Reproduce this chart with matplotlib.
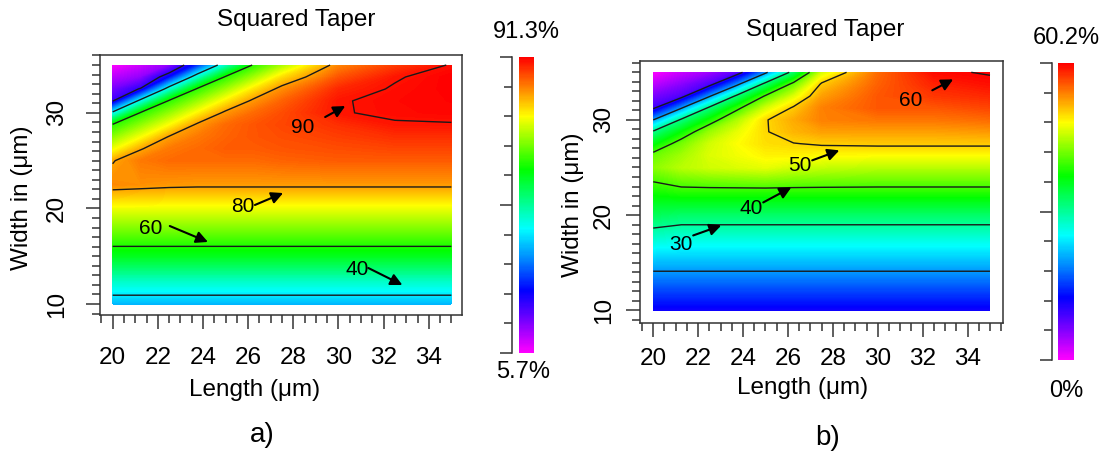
import numpy as np
import matplotlib
matplotlib.use("Agg")
import matplotlib.pyplot as plt
from matplotlib.colors import LinearSegmentedColormap, Normalize
from matplotlib.cm import ScalarMappable
from matplotlib.ticker import MultipleLocator, FixedLocator

plt.rcParams['font.family'] = ['Liberation Sans', 'DejaVu Sans']

# === Data ===
length_um = [20, 21.25, 22.5, 23.75, 25, 26.25, 27.5, 30, 32.5, 35]
width_um = [10, 12.5, 15, 17.5, 20, 22.5, 25, 26.25, 27.5, 28.75, 30, 31.25, 32.5, 33.75, 35]

# a) efficiency (%) : one row per width, one column per length
eff_a = [
    [36.5, 36.5, 36.5, 36.5, 36.5, 36.5, 36.5, 36.5, 36.5, 36.5],
    [46.0, 46.0, 46.0, 46.0, 46.0, 46.0, 46.0, 46.0, 46.0, 46.0],
    [56.5, 56.5, 56.5, 56.5, 56.5, 56.5, 56.5, 56.5, 56.5, 56.5],
    [65.0, 65.0, 65.0, 65.0, 65.0, 65.0, 65.0, 65.0, 65.0, 65.0],
    [73.0, 73.0, 73.0, 73.0, 73.0, 73.0, 73.0, 73.0, 73.0, 73.0],
    [82.0, 81.5, 81.0, 80.8, 80.8, 80.8, 80.8, 80.8, 80.8, 80.8],
    [79.7, 83.0, 84.0, 84.0, 84.0, 84.0, 84.5, 85.0, 85.0, 85.0],
    [72.9, 79.7, 83.0, 84.0, 85.0, 85.0, 85.5, 86.0, 86.5, 86.5],
    [66.8, 73.4, 80.3, 83.0, 84.5, 85.5, 86.0, 87.0, 88.0, 88.0],
    [60.7, 67.1, 73.8, 80.8, 84.0, 85.5, 86.5, 88.0, 89.7, 89.8],
    [41.7, 60.8, 67.3, 74.4, 81.0, 84.0, 86.0, 89.8, 90.5, 90.8],
    [19.5, 42.8, 60.8, 67.6, 74.9, 81.0, 84.5, 89.8, 90.6, 91.0],
    [14.9, 20.5, 43.8, 60.8, 67.9, 75.5, 81.5, 88.5, 90.3, 91.2],
    [10.3, 13.0, 23.6, 44.7, 60.8, 68.2, 76.0, 85.5, 89.7, 91.3],
    [5.7, 9.0, 13.0, 26.1, 45.3, 60.9, 68.5, 82.0, 87.0, 90.3],
]

# b) efficiency (%)
eff_b = [
    [12.0, 12.0, 12.0, 12.0, 12.0, 12.0, 12.0, 12.0, 12.0, 12.0],
    [16.8, 16.8, 16.8, 16.8, 16.8, 16.8, 16.8, 16.8, 16.8, 16.8],
    [21.8, 21.8, 21.8, 21.8, 21.8, 21.8, 21.8, 21.8, 21.8, 21.8],
    [27.5, 26.8, 26.8, 26.8, 26.8, 26.8, 26.8, 26.8, 26.8, 26.8],
    [33.0, 32.2, 32.2, 32.2, 32.2, 32.2, 32.2, 32.2, 32.2, 32.2],
    [38.0, 38.9, 38.9, 38.9, 38.9, 38.9, 38.9, 38.9, 38.9, 38.9],
    [43.0, 45.0, 46.0, 46.5, 47.0, 46.0, 45.5, 45.0, 45.0, 45.0],
    [41.5, 44.0, 46.5, 47.5, 48.5, 48.5, 48.2, 48.0, 48.0, 48.0],
    [36.1, 42.0, 46.0, 48.0, 49.5, 49.9, 50.3, 50.5, 50.5, 50.5],
    [30.7, 36.9, 43.5, 47.0, 49.8, 51.5, 52.5, 52.5, 52.5, 52.8],
    [20.0, 30.8, 37.8, 44.5, 49.8, 52.0, 54.0, 54.5, 54.5, 55.0],
    [9.4, 19.7, 31.0, 39.1, 46.0, 50.5, 54.0, 56.0, 56.0, 56.8],
    [6.3, 8.5, 19.5, 31.3, 40.5, 46.5, 52.5, 56.0, 57.5, 58.2],
    [3.1, 5.5, 8.5, 19.1, 31.7, 41.4, 50.5, 55.5, 58.5, 59.4],
    [0.0, 2.5, 4.5, 8.0, 19.0, 32.0, 46.0, 55.0, 59.6, 60.2],
]

range_a = (5.7, 91.3)
range_b = (0.0, 60.2)
levels_a = [20, 40, 60, 80, 90]
levels_b = [10, 20, 30, 40, 50, 60]
x_ticks = [20, 22, 24, 26, 28, 30, 32, 34]
y_ticks = [10, 20, 30]

# rainbow : magenta -> blue -> cyan -> green -> yellow -> red
cmap = LinearSegmentedColormap.from_list("rainbow_mag", [
    (0.00, (1.0, 0.0, 1.0)),
    (0.10, (0.5, 0.0, 1.0)),
    (0.21, (0.0, 0.0, 1.0)),
    (0.31, (0.0, 0.5, 1.0)),
    (0.42, (0.0, 1.0, 1.0)),
    (0.52, (0.0, 1.0, 0.5)),
    (0.62, (0.0, 1.0, 0.0)),
    (0.71, (0.5, 1.0, 0.0)),
    (0.80, (1.0, 1.0, 0.0)),
    (0.90, (1.0, 0.5, 0.0)),
    (1.00, (1.0, 0.0, 0.0)),
])

W, H = 1104, 455
fig = plt.figure(figsize=(W / 100, H / 100), dpi=100)
FS = 17.5
EDGE = '#333333'


def px_box(x0, y0, x1, y1):
    return [x0 / W, 1 - y1 / H, (x1 - x0) / W, (y1 - y0) / H]


def ftext(x, y, s, **kw):
    fig.text(x / W, 1 - y / H, s, ha='center', va='center', **kw)


def panel(box, xlim, ylim, z, vrange, levels, labels, pad):
    ax = fig.add_axes(px_box(*box))
    z = np.array(z)
    fill = np.linspace(vrange[0], vrange[1], 256)
    ax.contourf(length_um, width_um, z, levels=fill, cmap=cmap,
                vmin=vrange[0], vmax=vrange[1])
    ax.contour(length_um, width_um, z, levels=levels, colors='#1a1a1a',
               linewidths=1.0)
    ax.set_xlim(*xlim)
    ax.set_ylim(*ylim)
    ax.xaxis.set_major_locator(FixedLocator(x_ticks))
    ax.xaxis.set_minor_locator(MultipleLocator(0.5))
    ax.yaxis.set_major_locator(FixedLocator(y_ticks))
    ax.yaxis.set_minor_locator(MultipleLocator(1))
    ax.set_xticklabels([str(t) for t in x_ticks])
    ax.set_yticklabels([str(t) for t in y_ticks], rotation=90, va='center')
    ax.tick_params(which='major', length=10, width=1.1, color=EDGE,
                   labelsize=FS, pad=pad)
    ax.tick_params(which='minor', length=6, width=1.1, color=EDGE)
    for sp in ax.spines.values():
        sp.set_color(EDGE)
        sp.set_linewidth(1.1)
    for txt, pos, tail, head in labels:
        ax.text(pos[0], pos[1], txt, ha='center', va='center', fontsize=15)
        ax.annotate('', xy=head, xytext=tail,
                    arrowprops=dict(arrowstyle='-|>,head_length=0.7,head_width=0.35',
                                    color='black', lw=1.5,
                                    shrinkA=0, shrinkB=0))
    return ax


def colorbar(bar_box, line_x, vrange):
    cax = fig.add_axes(px_box(*bar_box))
    sm = ScalarMappable(norm=Normalize(*vrange), cmap=cmap)
    cb = fig.colorbar(sm, cax=cax)
    cb.outline.set_visible(False)
    cax.set_yticks([])
    cax.set_xticks([])
    # bracket with ticks on the left of the bar
    bax = fig.add_axes(px_box(line_x, bar_box[1], line_x + 2, bar_box[3]))
    bax.patch.set_visible(False)
    for s in ['top', 'right', 'bottom']:
        bax.spines[s].set_visible(False)
    bax.spines['left'].set_color(EDGE)
    bax.spines['left'].set_linewidth(1.1)
    bax.set_ylim(0, 1)
    bax.set_xticks([])
    bax.yaxis.set_major_locator(FixedLocator([0, 0.5, 1]))
    bax.yaxis.set_minor_locator(FixedLocator(np.arange(0.1, 1.0, 0.1)))
    bax.set_yticklabels([])
    bax.tick_params(which='major', length=9, width=1.1, color=EDGE)
    bax.tick_params(which='minor', length=6, width=1.1, color=EDGE)


# ---- a) ----
panel((100, 55, 462, 315), (19.44, 35.47), (8.85, 36.05), eff_a, range_a,
      levels_a,
      [('90', (28.43, 28.51), (29.41, 29.56), (30.30, 30.71)),
       ('80', (25.77, 20.15), (26.30, 20.36), (27.55, 21.61)),
       ('60', (21.69, 17.95), (22.53, 18.16), (24.22, 16.49)),
       ('40', (30.83, 13.56), (31.32, 13.77), (32.83, 11.99))], pad=13)
colorbar((519, 57, 534, 353), 512, range_a)
ftext(296, 20, 'Squared Taper', fontsize=FS)
ftext(22, 198, 'Width in (μm)', fontsize=FS, rotation=90)
ftext(255, 390, 'Length (μm)', fontsize=FS)
ftext(526, 32, '91.3%', fontsize=17)
ftext(523, 372, '5.7%', fontsize=17)
ftext(262, 435, 'a)', fontsize=20)

# ---- b) ----
panel((640, 61, 1003, 323), (19.41, 35.58), (8.66, 36.19), eff_b, range_b,
      levels_b,
      [('60', (31.45, 32.06), (32.43, 33.11), (33.36, 34.26)),
       ('50', (26.55, 25.22), (27.08, 25.75), (28.29, 26.80)),
       ('40', (24.37, 20.70), (24.90, 21.33), (26.15, 22.91)),
       ('30', (21.25, 16.91), (21.78, 17.86), (23.03, 18.91))], pad=8)
colorbar((1058, 63, 1074, 360), 1052, range_b)
ftext(825, 30, 'Squared Taper', fontsize=FS)
ftext(573, 205, 'Width in (μm)', fontsize=FS, rotation=90)
ftext(803, 388, 'Length (μm)', fontsize=FS)
ftext(1066, 38, '60.2%', fontsize=17)
ftext(1066, 391, '0%', fontsize=17)
ftext(828, 438, 'b)', fontsize=20)

fig.savefig("out.png", dpi=100)
